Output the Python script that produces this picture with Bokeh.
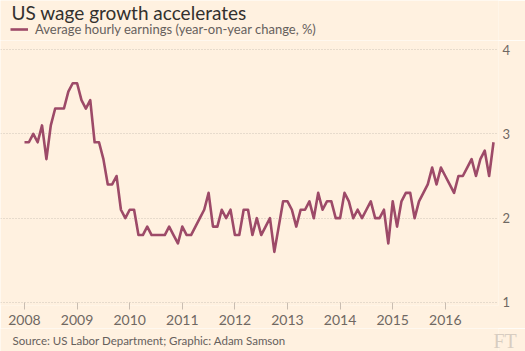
from bokeh.plotting import figure
from bokeh.layouts import column
from bokeh.models import (Range1d, FixedTicker, LinearAxis, Label, Legend, LegendItem)
from bokeh.embed import file_html
from bokeh.resources import INLINE

# ---- data ----
years = [2008, 2009, 2010, 2011, 2012, 2013, 2014, 2015, 2016]
earnings_yoy = [
    # 2008
    2.9, 2.9, 3.0, 2.9, 3.1, 2.7, 3.1, 3.3, 3.3, 3.3, 3.5, 3.6,
    # 2009
    3.6, 3.4, 3.3, 3.4, 2.9, 2.9, 2.7, 2.4, 2.4, 2.5, 2.1, 2.0,
    # 2010
    2.1, 2.1, 1.8, 1.8, 1.9, 1.8, 1.8, 1.8, 1.8, 1.9, 1.8, 1.7,
    # 2011
    1.9, 1.8, 1.8, 1.9, 2.0, 2.1, 2.3, 1.9, 1.9, 2.1, 2.0, 2.1,
    # 2012
    1.8, 1.8, 2.1, 2.1, 1.8, 2.0, 1.8, 1.9, 2.0, 1.6, 1.9, 2.2,
    # 2013
    2.2, 2.1, 1.9, 2.1, 2.1, 2.2, 2.0, 2.3, 2.1, 2.2, 2.2, 2.0,
    # 2014
    2.0, 2.3, 2.2, 2.0, 2.1, 2.0, 2.1, 2.2, 2.0, 2.0, 2.1, 1.7,
    # 2015
    2.2, 1.9, 2.2, 2.3, 2.3, 2.0, 2.2, 2.3, 2.4, 2.6, 2.4, 2.6,
    # 2016
    2.5, 2.4, 2.3, 2.5, 2.5, 2.6, 2.7, 2.5, 2.7, 2.8, 2.5, 2.9,
]
month_index = list(range(len(earnings_yoy)))
x_vals = [years[0] + m / 12 for m in month_index]
y_ticks = [1, 2, 3, 4]
x_tick_labels = [str(y) for y in years]

title_text = "US wage growth accelerates"
series_name = "Average hourly earnings (year-on-year change, %)"
source_text = "Source: US Labor Department; Graphic: Adam Samson"

# ---- styling ----
BG = "#fff1e0"
LINE = "#9d4a68"
GRID = "#cfc4b8"
FONT = "Lato"
W = 525
HEADER_H, MAIN_H, FOOTER_H = 40, 288, 23

px_per_year = 52.6
px_per_unit = 84.33
left_pad_px = 24          # where the first year sits inside the frame
frame_w = W - 27


def blank(height):
    f = figure(width=W, height=height, output_backend="svg", toolbar_location=None,
               x_range=Range1d(0, 1), y_range=Range1d(0, 1),
               x_axis_location=None, y_axis_location=None,
               min_border=0, min_border_left=0, min_border_right=27,
               min_border_top=0, min_border_bottom=0,
               background_fill_color=BG, border_fill_color=BG,
               outline_line_color=None)
    f.title.visible = False
    f.xgrid.visible = False
    f.ygrid.visible = False
    return f


# ---- header: title + legend ----
header = blank(HEADER_H)
header.add_layout(Label(x=11, y=28, x_units="screen", y_units="screen", text=title_text,
                        text_font=FONT, text_font_size="19px", text_color="#33302e",
                        text_baseline="middle"))
# legend swatch renderer: same series, lies outside this strip's visible range
swatch = header.line(x_vals, earnings_yoy, line_color=LINE, line_width=2.6)
legend = Legend(items=[LegendItem(label=series_name, renderers=[swatch])],
                location=(10, 3), padding=0, margin=0, spacing=0,
                glyph_width=18, glyph_height=14, label_height=14,
                label_standoff=7, border_line_color=None,
                background_fill_alpha=0,
                label_text_font=FONT, label_text_font_size="13px",
                label_text_color="#66605c")
header.add_layout(legend, "center")

# ---- main chart ----
x0 = years[0] - left_pad_px / px_per_year
p = figure(width=W, height=MAIN_H, output_backend="svg", toolbar_location=None,
           min_border_left=0, min_border_right=27, min_border_top=0,
           min_border_bottom=23,
           x_range=Range1d(x0, x0 + frame_w / px_per_year),
           y_range=Range1d(1 - 3 / px_per_unit, 4 + 9 / px_per_unit),
           background_fill_color=BG, border_fill_color=BG, outline_line_color=None,
           y_axis_location=None)
p.title.visible = False

p.line(x_vals, earnings_yoy, line_color=LINE, line_width=2.6, line_join="round")

p.xaxis.ticker = FixedTicker(ticks=years)
p.xaxis.major_label_overrides = {y: s for y, s in zip(years, x_tick_labels)}
p.xaxis.axis_line_color = None
p.xaxis.major_tick_in = 3
p.xaxis.major_tick_out = 4
p.xaxis.major_tick_line_color = "#c9bdb1"
p.xaxis.minor_tick_line_color = None
p.xaxis.major_label_standoff = 5
p.xaxis.major_label_text_font = FONT
p.xaxis.major_label_text_font_size = "14px"
p.xaxis.major_label_text_color = "#6f6863"

yax = LinearAxis(ticker=FixedTicker(ticks=y_ticks))
yax.axis_line_color = None
yax.major_tick_line_color = None
yax.minor_tick_line_color = None
yax.major_tick_out = 0
yax.major_label_standoff = 4
yax.major_label_text_font = FONT
yax.major_label_text_font_size = "13px"
yax.major_label_text_color = "#6f6863"
p.add_layout(yax, "right")

p.xgrid.grid_line_color = None
p.ygrid.ticker = FixedTicker(ticks=y_ticks)
p.ygrid.grid_line_color = GRID
p.ygrid.grid_line_dash = "1 2"
p.ygrid.grid_line_width = 1
p.ygrid.bounds = (years[0], years[-1] + 0.89)

# ---- footer: source + logo ----
footer = blank(FOOTER_H)
footer.add_layout(Label(x=12, y=11, x_units="screen", y_units="screen", text=source_text,
                        text_font=FONT, text_font_size="11.5px", text_color="#66605c",
                        text_baseline="middle"))
footer.add_layout(Label(x=-5, y=11, x_units="screen", y_units="screen", text="FT",
                        text_font="Liberation Serif", text_font_size="20px",
                        text_color="#d8cdc1", text_baseline="middle"), "right")

layout = column(header, p, footer, spacing=0)
open("out.html", "w").write(file_html(layout, INLINE))
